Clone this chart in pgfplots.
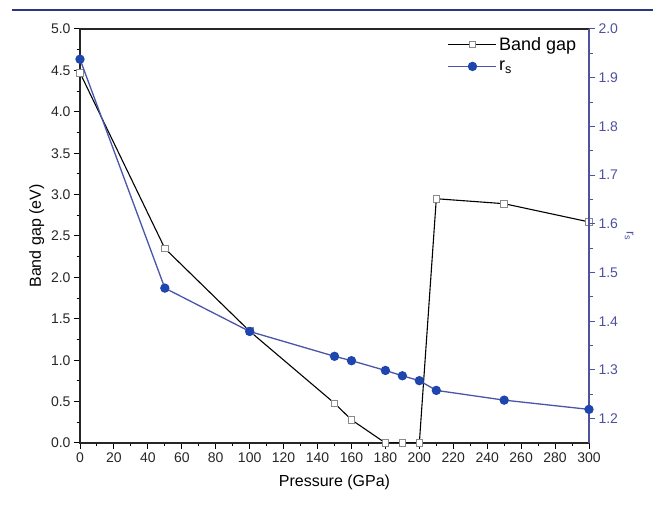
\documentclass[border=0pt]{standalone}
\usepackage{pgfplots}
\pgfplotsset{compat=1.18}
\usepackage{fontspec}
\setmainfont{Liberation Sans}
\definecolor{topline}{HTML}{2B3580}
\definecolor{rsline}{HTML}{4A55AA}
\definecolor{rsmark}{HTML}{1E46AE}
\definecolor{raxis}{HTML}{4E529E}
\definecolor{sqedge}{HTML}{8A8A8A}
\begin{document}
\begin{tikzpicture}[x=1bp,y=1bp]
\useasboundingbox (0,0) rectangle (653,505);
\draw[line width=2.5bp, topline] (12,495) -- (653,495);
\begin{axis}[
  at={(80bp,62bp)}, anchor=south west,
  scale only axis, width=509bp, height=414bp,
  xmin=0, xmax=300, ymin=0, ymax=5,
  xtick={0,20,...,300}, minor x tick num=1,
  ytick={0,0.5,...,5}, minor y tick num=1,
  xtick pos=bottom, ytick pos=left,
  tick align=outside,
  major tick length=6bp, minor tick length=3.5bp,
  every tick/.style={black, line width=1bp},
  axis line style={line width=1.1bp, black!85},
  /pgf/number format/assume math mode=true,
  ticklabel style={font=\fontsize{14bp}{16bp}\selectfont, text=black!85},
  yticklabel style={/pgf/number format/fixed, /pgf/number format/fixed zerofill, /pgf/number format/precision=1},
  xlabel={Pressure (GPa)}, ylabel={Band gap (eV)},
  label style={font=\fontsize{16bp}{19bp}\selectfont},
  xlabel style={yshift=-6bp},
  ylabel style={yshift=0bp},
]
\addplot[black, line width=1.1bp, mark=square*, mark size=3.3bp,
  mark options={fill=white, draw=sqedge, line width=0.9bp}] coordinates {
  (0,4.47) (50,2.35) (100,1.35) (150,0.48) (160,0.28) (180,0) (190,0) (200,0)
  (210,2.95) (250,2.89) (300,2.67)};
\end{axis}
\begin{axis}[
  at={(80bp,62bp)}, anchor=south west,
  scale only axis, width=509bp, height=414bp,
  xmin=0, xmax=300, ymin=1.15, ymax=2.0,
  axis x line=none, axis y line*=right,
  ytick={1.2,1.3,...,2.0}, minor ytick={1.25,1.35,...,1.95},
  tick align=outside,
  major tick length=6bp, minor tick length=3.5bp,
  every tick/.style={raxis, line width=1bp},
  axis line style={line width=1.1bp, raxis},
  /pgf/number format/assume math mode=true,
  ticklabel style={font=\fontsize{14bp}{16bp}\selectfont, text=raxis},
  yticklabel style={/pgf/number format/fixed, /pgf/number format/fixed zerofill, /pgf/number format/precision=1},
  ylabel={r\textsubscript{s}},
  ylabel style={font=\fontsize{13bp}{15bp}\selectfont, text=raxis, rotate=180},
  legend style={at={(0.985,0.99)}, anchor=north east, draw=none, fill=none,
    font=\fontsize{18bp}{21bp}\selectfont, row sep=5bp,
    /tikz/every even column/.append style={column sep=2bp}},
  legend cell align=left,
  legend image code/.code={
    \draw[#1] (0bp,0bp) -- (48bp,0bp);
    \draw[#1, only marks] plot coordinates {(24bp,0bp)};},
]
\addlegendimage{black, line width=1.1bp, mark=square*, mark size=3.3bp,
  mark options={fill=white, draw=sqedge, line width=0.9bp}}
\addlegendentry{Band gap}
\addplot[rsline, line width=1.3bp, mark=*, mark size=4bp,
  mark options={fill=rsmark, draw=rsmark}] coordinates {
  (0,1.938) (50,1.468) (100,1.379) (150,1.328) (160,1.319) (180,1.299)
  (190,1.288) (200,1.278) (210,1.258) (250,1.238) (300,1.219)};
\addlegendentry{r\textsubscript{s}}
\end{axis}
\end{tikzpicture}
\end{document}
